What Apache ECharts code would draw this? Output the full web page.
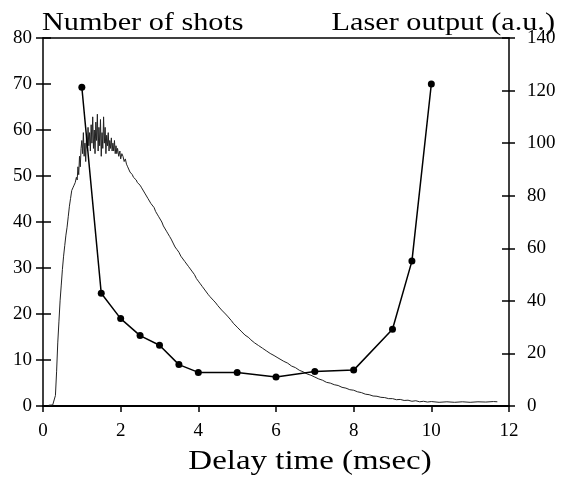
<!DOCTYPE html>
<html><head><meta charset="utf-8">
<script src="https://cdn.jsdelivr.net/npm/echarts@6/dist/echarts.min.js"></script>
<style>html,body{margin:0;padding:0;background:#fff}#c{width:561px;height:485px}</style>
</head><body><div id="c"></div>
<script>
const delayTimes = [1, 1.5, 2, 2.5, 3, 3.5, 4, 5, 6, 7, 8, 9, 9.5, 10];
const shotCounts = [69.3, 24.5, 19, 15.3, 13.2, 9, 7.3, 7.3, 6.3, 7.5, 7.8, 16.7, 31.5, 70];

const laserTimes = [0.15,0.2,0.25,0.3,0.32,0.35,0.38,0.41,0.44,0.47,0.5,0.53,0.56,0.59,0.62,0.65,0.68,0.71,0.74,0.77,0.8,0.83,0.86,0.88,0.9,0.92,0.94,0.96,
0.98,1.0,1.02,1.04,1.06,1.08,1.1,1.12,1.14,1.16,1.18,1.2,1.22,1.24,1.26,1.28,1.3,1.32,1.34,1.36,1.38,1.4,1.42,1.44,1.46,1.48,1.5,1.52,1.54,1.56,1.58,1.6,1.62,1.64,1.66,1.68,1.7,1.72,1.74,1.76,1.78,
1.8,1.82,1.84,1.86,1.88,1.9,1.92,1.95,1.98,2.0,2.03,2.06,2.09,2.12,2.15,2.18,2.21,2.24,2.27,2.3,2.33,2.36,2.4,2.43,2.46,2.5,2.54,2.58,2.62,2.66,2.7,2.74,2.78,2.82,2.86,2.9,2.94,2.98,3.02,3.06,3.1,3.14,3.18,3.22,3.26,3.3,3.35,3.4,3.45,3.5,3.55,3.6,3.65,3.7,3.75,3.8,3.85,3.9,3.95,
4.0,4.05,4.1,4.15,4.2,4.25,4.3,4.35,4.4,4.45,4.5,4.55,4.6,4.65,4.7,4.75,4.8,4.85,4.9,4.95,5.0,5.05,5.1,5.15,5.2,5.25,5.3,5.35,5.4,5.45,5.5,5.55,5.6,5.65,5.7,5.75,5.8,5.85,5.9,5.95,6.0,6.05,
6.1,6.2,6.3,6.4,6.5,6.6,6.7,6.8,6.9,7.0,7.1,7.2,7.3,7.4,7.5,7.6,7.7,7.8,7.9,8.0,8.1,8.2,8.3,8.4,8.5,8.6,8.7,8.8,8.9,9.0,9.1,9.2,9.3,9.4,9.5,9.6,9.7,9.8,9.9,10.0,10.2,10.4,10.6,10.8,11.0,11.2,11.4,11.6,11.7];
const laserOutput = [0.3,0.2,0.4,0.5,4,13,24,32,40,46,52,57,61,65,68,72,76,79,82,83,84,85,87,86,91,88,95,91,
98,101,96,104,95,100,93,103,98,106,99,104,97,107,100,110,98,105,96,108,101,111,97,106,99,109,95,104,98,110,100,106,96,103,99,104,97,101,98,102,97,
100,97,101,96,99,96,98,95,97,94,96,95,93,94,92,91,91.5,89,89.5,88,87,87.5,86,85,85.5,84,83,82.5,81,80.5,79,78.5,77,76.5,75.5,74,73,72,71.5,70,68.5,68,66.5,65.5,64.5,63.5,62,60.5,59.5,58.5,57,56.5,55,54.5,53,52.3,51,50,48.5,
47.5,46.5,45.5,44.5,43.8,42.5,41.6,41,40,39.2,38.2,37.5,36.5,36,35,34.2,33.5,32.5,31.5,31,30,29.3,28.5,28,27,26.4,26,25.2,24.6,24,23.5,23,22.3,22,21.3,21,20.3,20,19.5,19.2,18.6,18.3,
18,17,16.3,15.2,14.6,13.6,13,12.2,11.7,11,10.3,9.8,9,8.7,8.1,7.8,7.1,6.8,6.2,6,5.4,5.1,4.5,4.3,3.8,3.7,3.3,3.2,2.8,2.8,2.4,2.5,2.1,2.2,1.8,2.0,1.6,1.8,1.5,1.7,1.4,1.6,1.4,1.6,1.4,1.6,1.5,1.7,1.6];

const xTicks = [0, 2, 4, 6, 8, 10, 12];
const leftTicks = [0, 10, 20, 30, 40, 50, 60, 70, 80];
const rightTicks = [0, 20, 40, 60, 80, 100, 120, 140];

const FONT = 'Liberation Serif';
const chart = echarts.init(document.getElementById('c'), null, {renderer: 'canvas'});
const axisLine = {show: true, onZero: false, lineStyle: {color: '#000', width: 1.5}};
const noLine = {show: false, onZero: false};
const labelStyle = {color: '#000', fontFamily: FONT, fontSize: 19};
const gridRect = {left: 43, right: 52, top: 38, bottom: 79, containLabel: false};
const tickStyle = {color: '#000', width: 1.5};

chart.setOption({
  animation: false,
  backgroundColor: '#fff',
  grid: [Object.assign({}, gridRect), Object.assign({}, gridRect)],
  xAxis: [
    {type: 'value', gridIndex: 0, min: xTicks[0], max: xTicks[xTicks.length - 1], interval: 2, position: 'bottom',
     axisLine: {show: true, onZero: false, lineStyle: {color: '#000', width: 2}},
     axisTick: {show: true, inside: false, length: 6, lineStyle: tickStyle},
     axisLabel: Object.assign({margin: 16}, labelStyle), splitLine: {show: false}},
    {type: 'value', gridIndex: 0, min: 0, max: 12, position: 'top', axisLine: axisLine,
     axisTick: {show: false}, axisLabel: {show: false}, splitLine: {show: false}},
    {type: 'value', gridIndex: 1, min: 0, max: 12, position: 'bottom', axisLine: noLine,
     axisTick: {show: false}, axisLabel: {show: false}, splitLine: {show: false}}
  ],
  yAxis: [
    {type: 'value', gridIndex: 0, min: leftTicks[0], max: leftTicks[leftTicks.length - 1], interval: 10, position: 'left',
     axisLine: axisLine,
     axisTick: {show: true, inside: false, length: 7, lineStyle: tickStyle},
     axisLabel: Object.assign({margin: 11}, labelStyle), splitLine: {show: false}},
    {type: 'value', gridIndex: 0, min: rightTicks[0], max: rightTicks[rightTicks.length - 1], interval: 20, position: 'right',
     axisLine: axisLine,
     axisTick: {show: true, inside: false, length: 6, lineStyle: tickStyle},
     axisLabel: Object.assign({margin: 18}, labelStyle), splitLine: {show: false}},
    {type: 'value', gridIndex: 1, min: 0, max: 80, interval: 10, position: 'left', axisLine: noLine,
     axisTick: {show: true, inside: true, length: 8, lineStyle: tickStyle},
     axisLabel: {show: false}, splitLine: {show: false}},
    {type: 'value', gridIndex: 1, min: 0, max: 140, interval: 20, position: 'right', axisLine: noLine,
     axisTick: {show: true, inside: true, length: 7, lineStyle: tickStyle},
     axisLabel: {show: false}, splitLine: {show: false}}
  ],
  graphic: [
    {type: 'text', x: 42, y: 11, scaleX: 1.21, style: {text: 'Number of shots', font: '25px "Liberation Serif"', fill: '#000', textAlign: 'left', textVerticalAlign: 'top'}},
    {type: 'text', x: 555, y: 11, scaleX: 1.21, style: {text: 'Laser output (a.u.)', font: '25px "Liberation Serif"', fill: '#000', textAlign: 'right', textVerticalAlign: 'top'}},
    {type: 'text', x: 310, y: 462, scaleX: 1.22, style: {text: 'Delay time (msec)', font: '27px "Liberation Serif"', fill: '#000', textAlign: 'center', textVerticalAlign: 'middle'}}
  ],
  series: [
    {type: 'line', name: 'Laser output', xAxisIndex: 0, yAxisIndex: 1, showSymbol: false, symbol: 'none',
     lineStyle: {color: '#222', width: 1}, data: laserTimes.map((t, i) => [t, laserOutput[i]])},
    {type: 'line', name: 'Number of shots', xAxisIndex: 0, yAxisIndex: 0, symbol: 'circle', symbolSize: 7,
     itemStyle: {color: '#000'}, lineStyle: {color: '#000', width: 1.5},
     data: delayTimes.map((t, i) => [t, shotCounts[i]])}
  ]
});
</script></body></html>
